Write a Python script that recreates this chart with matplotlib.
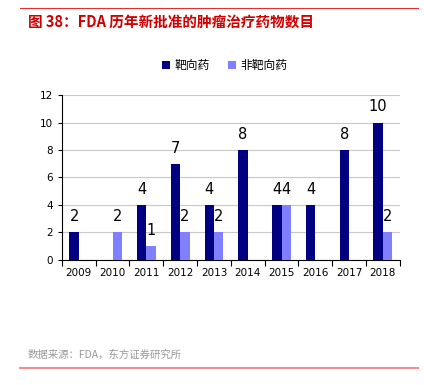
import matplotlib.pyplot as plt
import numpy as np
from matplotlib.lines import Line2D

plt.rcParams['font.family'] = ['Noto Sans CJK SC', 'DejaVu Sans']

years = ["2009", "2010", "2011", "2012", "2013", "2014", "2015", "2016", "2017", "2018"]
targeted = [2, 0, 4, 7, 4, 8, 4, 4, 8, 10]
non_targeted = [0, 2, 1, 2, 2, 0, 4, 0, 0, 2]

fig = plt.figure(figsize=(4.24, 3.85), dpi=100)
ax = fig.add_axes([0.146, 0.325, 0.797, 0.428])

x = np.arange(len(years))
w = 0.28
b1 = ax.bar(x - w / 2, targeted, w, color="#000080", label="靶向药", zorder=3)
b2 = ax.bar(x + w / 2, non_targeted, w, color="#8080ff", label="非靶向药", zorder=3)

for bars, vals in ((b1, targeted), (b2, non_targeted)):
    for rect, v in zip(bars, vals):
        if v > 0:
            ax.text(rect.get_x() + rect.get_width() / 2, v + 0.6, str(v),
                    ha="center", va="bottom", fontsize=10.5, family="DejaVu Sans")

ax.set_xlim(-0.5, len(years) - 0.5)
ax.set_ylim(0, 12)
ax.set_yticks(range(0, 13, 2))
ax.set_xticks(x)
ax.set_xticklabels(years)
ax.set_xticks(np.arange(-0.5, len(years), 1), minor=True)
ax.tick_params(axis="x", which="major", length=0, labelsize=7.5, pad=6)
ax.tick_params(axis="x", which="minor", length=4, width=0.8, direction="out")
ax.tick_params(axis="y", length=3, width=0.8, labelsize=7.5, direction="out")
for lbl in ax.get_xticklabels() + ax.get_yticklabels():
    lbl.set_family("DejaVu Sans")
ax.yaxis.grid(True, color="#c8c8c8", linewidth=0.8, zorder=0)
ax.spines["top"].set_visible(False)
ax.spines["right"].set_visible(False)
ax.spines["left"].set_linewidth(0.8)
ax.spines["bottom"].set_linewidth(0.8)

fig.legend(loc="center", bbox_to_anchor=(0.53, 0.83), ncol=2, frameon=False,
           fontsize=8.5, handlelength=0.7, handleheight=0.7, handletextpad=0.4,
           columnspacing=1.5)

fig.add_artist(Line2D([0.047, 0.986], [0.978, 0.978], color="#e03030", linewidth=0.8))
fig.text(0.066, 0.943, "图 38：FDA 历年新批准的肿瘤治疗药物数目", color="#d00000",
         fontsize=10.5, fontweight="bold", va="center")
fig.text(0.066, 0.078, "数据来源：FDA，东方证券研究所", color="#999999",
         fontsize=7.5, va="center")
fig.add_artist(Line2D([0.047, 0.986], [0.043, 0.043], color="#f09090", linewidth=1.5))

fig.savefig("out.png", dpi=100)
